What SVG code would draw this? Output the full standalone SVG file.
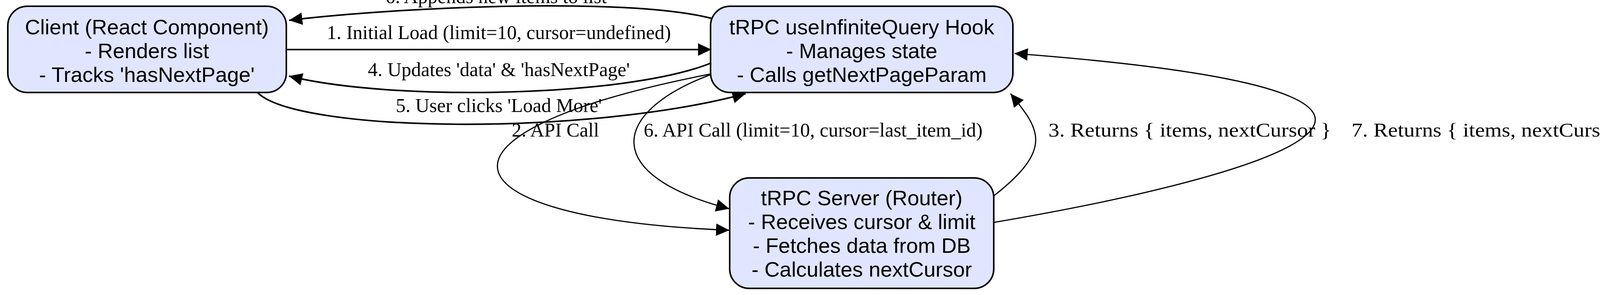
<svg xmlns="http://www.w3.org/2000/svg" width="4216" height="756" viewBox="0 0 4216 756">
<style>
.box{fill:#e0e6ff;stroke:#000;stroke-width:4}
.nt{font-family:"Liberation Sans",Arial,sans-serif;font-size:54px;text-anchor:middle;fill:#000}
.et{font-family:"Liberation Serif","Times New Roman",serif;font-size:50px;fill:#000}
.e{fill:none;stroke:#000;stroke-width:4}
.e2{fill:none;stroke:#000;stroke-width:3}
</style>
<defs>
<marker id="a" markerUnits="userSpaceOnUse" markerWidth="36" markerHeight="32" refX="34" refY="16" orient="auto">
<path d="M0,0 L34,16 L0,32 Z" fill="#000"/>
</marker>
</defs>
<rect width="4216" height="756" fill="#fff"/>
<g id="connectors">
<path class="e" d="M1821,47 C1600,-10 1000,20 740,52" marker-end="url(#a)"/>
<path class="e" d="M733,127 L1821,127" marker-end="url(#a)"/>
<path class="e" d="M1819,162 C1600,250 1000,260 740,195" marker-end="url(#a)"/>
<path class="e" d="M659,237 C760,340 1500,350 1909,240" marker-end="url(#a)"/>
<path class="e2" d="M1817,190 C1050,340 1120,560 1867,590" marker-end="url(#a)"/>
<path class="e2" d="M1817,192 C1560,290 1540,450 1867,535" marker-end="url(#a)"/>
<path class="e2" d="M2544,502 C2700,380 2660,330 2587,240" marker-end="url(#a)"/>
<path class="e2" d="M2544,570 C3250,450 3950,240 2597,137" marker-end="url(#a)"/>
<text class="et" x="1270" y="8" text-anchor="middle">6. Appends new items to list</text>
<text class="et" x="1277" y="100" text-anchor="middle">1. Initial Load (limit=10, cursor=undefined)</text>
<text class="et" x="1277" y="195" text-anchor="middle">4. Updates 'data' &amp; 'hasNextPage'</text>
<text class="et" x="1277" y="287" text-anchor="middle">5. User clicks 'Load More'</text>
<text class="et" x="1310" y="350">2. API Call</text>
<text class="et" x="1648" y="350">6. API Call (limit=10, cursor=last_item_id)</text>
<text class="et" x="2684" y="350" textLength="724" lengthAdjust="spacingAndGlyphs">3. Returns { items, nextCursor }</text>
<text class="et" x="3460" y="350" textLength="724" lengthAdjust="spacingAndGlyphs">7. Returns { items, nextCursor }</text>
</g>
<g id="client">
<rect class="box" x="20" y="16" width="713" height="221" rx="50"/>
<text class="nt" x="376" y="88">Client (React Component)</text>
<text class="nt" x="376" y="149">- Renders list</text>
<text class="nt" x="376" y="210">- Tracks 'hasNextPage'</text>
</g>
<g id="hook">
<rect class="box" x="1819" y="16" width="774" height="221" rx="50"/>
<text class="nt" x="2206" y="88">tRPC useInfiniteQuery Hook</text>
<text class="nt" x="2206" y="149">- Manages state</text>
<text class="nt" x="2206" y="210">- Calls getNextPageParam</text>
</g>
<g id="server">
<rect class="box" x="1868" y="456" width="676" height="283" rx="50"/>
<text class="nt" x="2206" y="526">tRPC Server (Router)</text>
<text class="nt" x="2206" y="587">- Receives cursor &amp; limit</text>
<text class="nt" x="2206" y="648">- Fetches data from DB</text>
<text class="nt" x="2206" y="709">- Calculates nextCursor</text>
</g>
</svg>
